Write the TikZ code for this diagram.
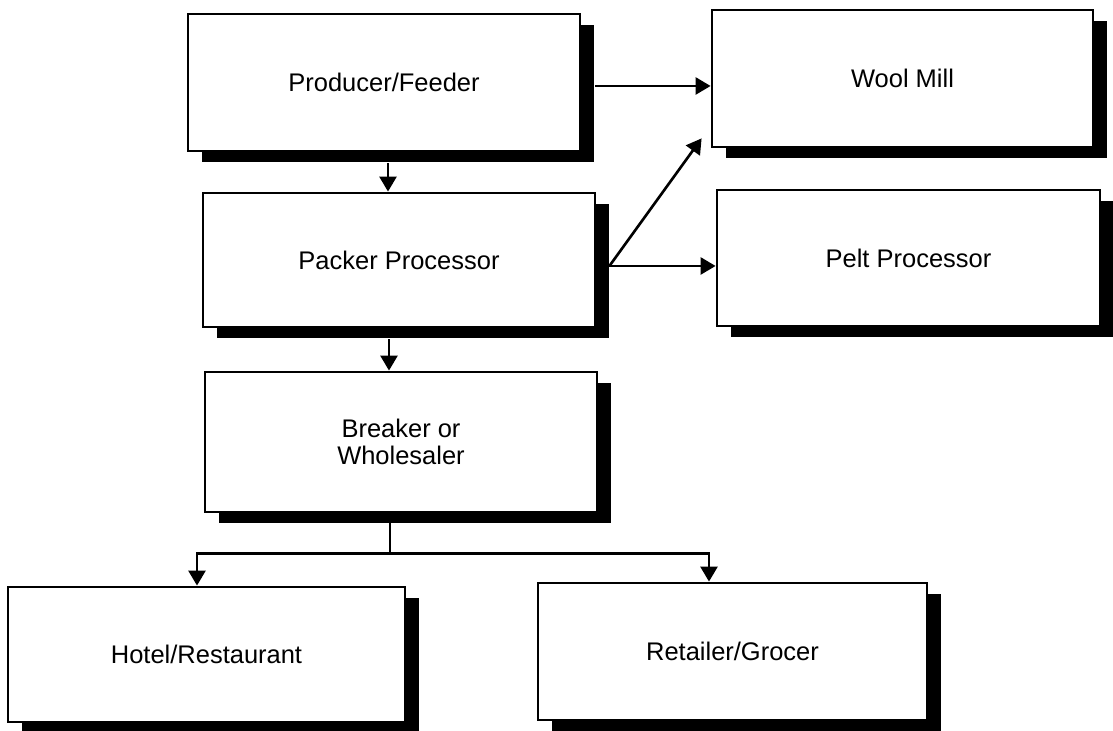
\documentclass[tikz,border=0pt]{standalone}
\usepackage{fontspec}
\setmainfont{Liberation Sans}
\usepackage{tikz}
\usetikzlibrary{arrows.meta,shadows}

\begin{document}
\begin{tikzpicture}[
    box/.style={draw, line width=1.6pt, fill=white, minimum width=7.8cm, minimum height=2.74cm,
        align=center, font=\fontsize{14.5}{15.5}\selectfont,
        drop shadow={shadow xshift=0.28cm, shadow yshift=-0.22cm, opacity=1, fill=black}},
    arr/.style={line width=1.5pt, -{Triangle[length=0.3cm,width=0.34cm]}},
    link/.style={line width=1.5pt}]
    \useasboundingbox (0,0) rectangle (22.26,14.62);
    % boxes
    \node[box, minimum width=7.84cm] (prod) at (7.68,12.97) {Producer/Feeder};
    \node[box, minimum width=7.62cm] (wool) at (18.05,13.05) {Wool Mill};
    \node[box, minimum width=7.84cm, minimum height=2.68cm] (pack) at (7.98,9.42) {Packer Processor};
    \node[box, minimum width=7.66cm, minimum height=2.72cm] (pelt) at (18.17,9.46) {Pelt Processor};
    \node[box, minimum width=7.84cm, minimum height=2.8cm] (brk) at (8.02,5.78) {Breaker or\\Wholesaler};
    \node[box, minimum width=7.94cm, minimum height=2.7cm] (hotel) at (4.13,1.53) {Hotel/Restaurant};
    \node[box, minimum width=7.78cm] (retail) at (14.65,1.59) {Retailer/Grocer};
    % helper points
    \coordinate (fork) at ([xshift=0.26cm,yshift=-0.12cm]pack.east);
    \coordinate (woolin) at ([xshift=-0.18cm,yshift=0.2cm]wool.south west);
    \coordinate (split) at ([xshift=-0.22cm,yshift=-0.8cm]brk.south);
    % connectors
    \draw[arr] ([xshift=0.28cm,yshift=-0.07cm]prod.east) -- ([yshift=-0.07cm]prod.east -| wool.west);
    \draw[arr] ([xshift=0.08cm,yshift=-0.22cm]prod.south) -- ([xshift=0.08cm]prod.south |- pack.north);
    \draw[arr] (fork) -- (woolin);
    \draw[arr] (fork) -- (fork -| pelt.west);
    \draw[arr] ([xshift=-0.2cm,yshift=-0.22cm]pack.south) -- ([xshift=-0.2cm]pack.south |- brk.north);
    \draw[link] ([xshift=-0.22cm]brk.south) -- (split);
    \draw[arr] (split) -| ([xshift=-0.19cm]hotel.north);
    \draw[arr] (split) -| ([xshift=-0.47cm]retail.north);
\end{tikzpicture}
\end{document}
